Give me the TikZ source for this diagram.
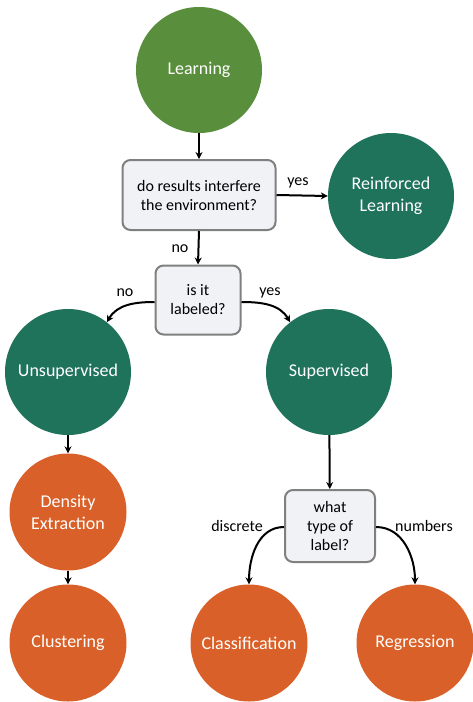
\documentclass[tikz,border=0pt]{standalone}
\usepackage{fontspec}
\setmainfont{Carlito}
\usetikzlibrary{arrows.meta}
\definecolor{lgreen}{HTML}{588E3C}
\definecolor{teal}{HTML}{20735B}
\definecolor{orng}{HTML}{D96028}
\definecolor{boxfill}{HTML}{F1F2F5}
\definecolor{boxline}{HTML}{808080}
\begin{document}
\begin{tikzpicture}[x=1pt,y=-1pt,
  circ/.style={circle,inner sep=0pt,text=white,align=center,font=\fontsize{18}{22}\selectfont},
  bigc/.style={circ,minimum size=126pt},
  smallc/.style={circ,minimum size=117pt},
  qbox/.style={draw=boxline,line width=2pt,fill=boxfill,rounded corners=8pt,align=center,inner sep=0pt,font=\fontsize{16}{19}\selectfont},
  lbl/.style={font=\fontsize{16}{18}\selectfont,inner sep=0pt},
  arr/.style={line width=2pt,-{Stealth[length=7pt,width=7pt]}}]
\useasboundingbox (0,0) rectangle (472,702);
\node[bigc,fill=lgreen] (learn) at (199,70) {Learning};
\node[qbox,minimum width=153pt,minimum height=70pt] (q1) at (199,195) {do results interfere\\the environment?};
\node[bigc,fill=teal] (rl) at (391,196) {Reinforced\\Learning};
\node[qbox,minimum width=85pt,minimum height=69pt] (q2) at (198,300) {is it\\labeled?};
\node[bigc,fill=teal] (unsup) at (68,372) {Unsupervised};
\node[bigc,fill=teal] (sup) at (329,372) {Supervised};
\node[smallc,fill=orng] (dens) at (68,512) {Density\\Extraction};
\node[smallc,fill=orng] (clus) at (68,643) {Clustering};
\node[qbox,minimum width=90pt,minimum height=72pt] (q3) at (330,526) {what\\type of\\label?};
\node[smallc,fill=orng] (cls) at (249,643) {Classification};
\node[smallc,fill=orng] (reg) at (415,643) {Regression};

\draw[arr] (learn) -- (q1);
\draw[arr] (q1.east) -- (rl.west);
\draw[arr] (q1.south) -- (q2.north);
\draw[arr] (q2.west |- 0,302) to[out=180,in=60] (unsup.52);
\draw[arr] (q2.east |- 0,302) to[out=0,in=120] (sup.128);
\draw[arr] (unsup) -- (dens);
\draw[arr] (dens) -- (clus);
\draw[arr] (sup) -- (q3);
\draw[arr] (q3.west |- 0,527) to[out=180,in=90] (cls.north);
\draw[arr] (q3.east |- 0,527) to[out=0,in=90] (reg.north);

\node[lbl] (l1) at (298,183) {yes};
\node[lbl] (l2) at (180,249) {no};
\node[lbl] (l3) at (125,293) {no};
\node[lbl] (l4) at (270,293) {yes};
\node[lbl] (l5) at (237,526) {discrete};
\node[lbl] (l6) at (424,526) {numbers};
\end{tikzpicture}
\end{document}
